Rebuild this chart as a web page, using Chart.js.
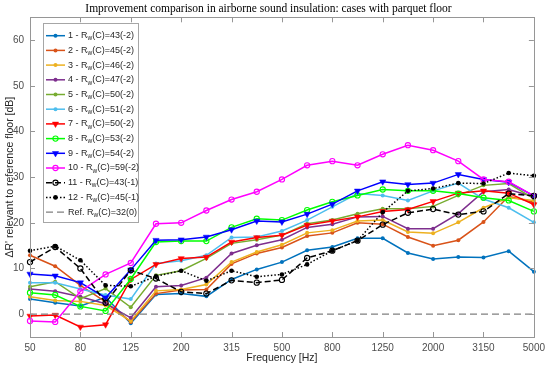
<!DOCTYPE html>
<html>
<head>
<meta charset="utf-8">
<script src="https://cdn.jsdelivr.net/npm/chart.js@4/dist/chart.umd.min.js"></script>
<style>
  html, body { margin: 0; padding: 0; background: #fff; }
  #chart { display: block; }
</style>
</head>
<body>
<canvas id="chart" width="550" height="367"></canvas>
<script>
// third-octave bands, and the ones that get a label
const freqLabels = ['50','63','80','100','125','160','200','250','315','400','500','630','800','1000','1250','1600','2000','2500','3150','4000','5000'];
const shownTicks = ['50','80','125','200','315','500','800','1250','2000','3150','5000'];
const yTicks = [0, 10, 20, 30, 40, 50, 60];

const legendLabels = [
  '1 - R_w(C)=43(-2)', '2 - R_w(C)=45(-2)', '3 - R_w(C)=46(-2)', '4 - R_w(C)=47(-2)',
  '5 - R_w(C)=50(-2)', '6 - R_w(C)=51(-2)', '7 - R_w(C)=50(-2)', '8 - R_w(C)=53(-2)',
  '9 - R_w(C)=54(-2)', '10 - R_w(C)=59(-2)', '11 - R_w(C)=43(-1)', '12 - R_w(C)=45(-1)',
  'Ref. R_w(C)=32(0)'
];

// improvement values [dB] per case
const case1  = [3.3, 2.5, 1.8, 3.7, -2.0, 4.3, 4.5, 3.9, 7.6, 9.8, 11.4, 14.0, 14.7, 16.6, 16.6, 13.4, 12.1, 12.5, 12.4, 13.8, 9.3];
const case2  = [12.9, 10.5, 6.3, 2.7, -1.7, 4.5, 5.3, 5.4, 11.0, 13.3, 14.6, 17.1, 17.8, 20.0, 19.7, 16.9, 15.0, 16.2, 20.2, 25.8, 24.5];
const case3  = [3.8, 3.0, 2.8, 1.9, -1.5, 5.1, 5.4, 6.5, 11.4, 13.6, 15.2, 17.8, 18.4, 20.4, 20.6, 18.0, 17.7, 20.1, 23.3, 25.5, 24.9];
const case4  = [5.5, 5.0, 3.8, 2.3, -0.8, 6.0, 6.3, 8.0, 13.3, 15.1, 16.3, 19.0, 19.7, 21.3, 21.4, 18.7, 18.7, 22.0, 26.8, 27.3, 25.7];
const case5  = [6.0, 7.1, 3.4, 5.6, 1.5, 8.5, 9.5, 12.2, 15.5, 16.3, 17.3, 19.8, 20.6, 22.0, 23.1, 23.1, 23.6, 26.0, 28.2, 28.6, 25.3];
const case6  = [6.9, 6.9, 5.5, 4.2, 3.3, 11.1, 11.7, 12.9, 16.8, 16.9, 18.2, 20.6, 23.5, 26.4, 26.0, 24.9, 27.0, 28.7, 25.2, 23.3, 20.1];
const case7  = [-0.4, -0.2, -2.8, -2.3, 7.6, 10.9, 12.2, 12.5, 15.8, 16.8, 17.3, 19.5, 20.4, 21.3, 22.5, 22.9, 24.7, 26.5, 27.0, 26.5, 24.0];
const case8  = [4.7, 4.2, 1.7, 0.7, 7.7, 15.8, 16.0, 16.0, 19.0, 20.9, 20.6, 22.8, 24.6, 26.0, 27.3, 27.0, 27.0, 26.4, 25.5, 24.9, 22.5];
const case9  = [8.8, 8.4, 6.9, 3.6, 9.7, 16.2, 16.3, 16.9, 18.5, 20.4, 20.2, 21.9, 24.1, 27.0, 29.0, 28.4, 28.7, 30.6, 29.5, 28.9, 25.9];
const case10 = [-1.5, -1.7, 5.0, 8.7, 11.2, 19.8, 20.0, 22.7, 25.1, 26.8, 29.5, 32.6, 33.5, 32.6, 35.0, 37.0, 35.9, 33.5, 29.5, 29.0, 25.9];
const case11 = [11.4, 14.7, 10.0, 2.5, 9.6, 7.8, 4.9, 4.5, 7.4, 6.9, 7.5, 12.3, 13.9, 16.1, 19.6, 22.2, 23.0, 21.8, 22.5, 26.4, 25.9];
const case12 = [13.9, 14.9, 11.8, 6.3, 6.1, 8.3, 9.5, 7.3, 9.5, 8.2, 8.7, 10.9, 13.9, 16.1, 22.3, 27.0, 27.5, 28.7, 28.6, 30.9, 30.3];
const refFloor = [0, 0, 0, 0, 0, 0, 0, 0, 0, 0, 0, 0, 0, 0, 0, 0, 0, 0, 0, 0, 0];

function dotSeries(label, data, color) {
  return {
    label: label, data: data, borderColor: color, backgroundColor: color,
    borderWidth: 1.5, pointStyle: 'circle', pointRadius: 2,
    pointBackgroundColor: color, pointBorderColor: color, pointBorderWidth: 0
  };
}
function triSeries(label, data, color) {
  return {
    label: label, data: data, borderColor: color, backgroundColor: color,
    borderWidth: 1.5, pointStyle: 'triangle', pointRotation: 180, pointRadius: 3.6,
    pointBackgroundColor: color, pointBorderColor: color, pointBorderWidth: 0.5
  };
}
function ringSeries(label, data, color) {
  return {
    label: label, data: data, borderColor: color, backgroundColor: color,
    borderWidth: 1.5, pointStyle: 'circle', pointRadius: 2.6,
    pointBackgroundColor: 'rgba(0,0,0,0)', pointBorderColor: color, pointBorderWidth: 1.1
  };
}

var datasets = [
  dotSeries(legendLabels[0], case1, '#0072BD'),
  dotSeries(legendLabels[1], case2, '#D95319'),
  dotSeries(legendLabels[2], case3, '#EDB120'),
  dotSeries(legendLabels[3], case4, '#7E2F8E'),
  dotSeries(legendLabels[4], case5, '#77AC30'),
  dotSeries(legendLabels[5], case6, '#4DBEEE'),
  triSeries(legendLabels[6], case7, '#FF0000'),
  ringSeries(legendLabels[7], case8, '#00FF00'),
  triSeries(legendLabels[8], case9, '#0000FF'),
  ringSeries(legendLabels[9], case10, '#FF00FF'),
  Object.assign(ringSeries(legendLabels[10], case11, '#000000'), { borderDash: [6, 3] }),
  Object.assign(dotSeries(legendLabels[11], case12, '#000000'), { borderDash: [1.5, 2], pointRadius: 2.3 }),
  {
    label: legendLabels[12], data: refFloor, borderColor: '#808080', backgroundColor: '#808080',
    borderWidth: 1.2, borderDash: [7, 4], pointRadius: 0
  }
];
// later cases drawn on top, like the original
datasets.forEach(function (ds, i) { ds.order = datasets.length - i; });

// matlab style box with inward ticks on all sides
const boxPlugin = {
  id: 'boxPlugin',
  afterDatasetsDraw(chart) {
    const ctx = chart.ctx;
    const a = chart.chartArea;
    const x = chart.scales.x, y = chart.scales.y;
    ctx.save();
    ctx.setLineDash([]);
    ctx.strokeStyle = '#969696';
    ctx.lineWidth = 1;
    ctx.strokeRect(Math.round(a.left) + 0.5, Math.round(a.top) + 0.5,
      Math.round(a.right - a.left), Math.round(a.bottom - a.top));
    ctx.beginPath();
    x.ticks.forEach(function (t) {
      var px = Math.round(x.getPixelForValue(t.value)) + 0.5;
      ctx.moveTo(px, a.bottom); ctx.lineTo(px, a.bottom - 5);
      ctx.moveTo(px, a.top); ctx.lineTo(px, a.top + 5);
    });
    y.ticks.forEach(function (t) {
      var py = Math.round(y.getPixelForValue(t.value)) + 0.5;
      ctx.moveTo(a.left, py); ctx.lineTo(a.left + 5, py);
      ctx.moveTo(a.right, py); ctx.lineTo(a.right - 5, py);
    });
    ctx.stroke();
    ctx.restore();
  }
};

// legend box in the upper left corner, with subscript w
const legendPlugin = {
  id: 'legendPlugin',
  afterDraw(chart) {
    const ctx = chart.ctx;
    const left = 43, top = 23, w = 95, h = 199;
    const rowH = 14.7, firstY = 35.7;
    ctx.save();
    ctx.fillStyle = '#ffffff';
    ctx.fillRect(left, top, w, h);
    ctx.strokeStyle = '#a6a6a6';
    ctx.lineWidth = 1;
    ctx.strokeRect(left + 0.5, top + 0.5, w, h);
    chart.data.datasets.forEach(function (ds, i) {
      var cy = firstY + i * rowH;
      ctx.strokeStyle = ds.borderColor;
      ctx.lineWidth = ds.borderWidth;
      ctx.setLineDash(ds.borderDash || []);
      ctx.beginPath();
      ctx.moveTo(46, cy); ctx.lineTo(65, cy);
      ctx.stroke();
      ctx.setLineDash([]);
      if (ds.pointRadius > 0) {
        ctx.fillStyle = ds.pointBackgroundColor;
        ctx.strokeStyle = ds.pointBorderColor;
        ctx.lineWidth = ds.pointBorderWidth;
        Chart.helpers.drawPoint(ctx, {
          pointStyle: ds.pointStyle, radius: ds.pointRadius,
          rotation: ds.pointRotation || 0, borderWidth: ds.pointBorderWidth
        }, 55.5, cy);
      }
      var parts = ds.label.split('_w');
      var tx = 68;
      ctx.fillStyle = '#262626';
      ctx.textBaseline = 'middle';
      ctx.textAlign = 'left';
      ctx.font = '9px "Liberation Sans", Arial, sans-serif';
      ctx.fillText(parts[0], tx, cy);
      tx += ctx.measureText(parts[0]).width;
      ctx.font = '6.5px "Liberation Sans", Arial, sans-serif';
      ctx.fillText('w', tx, cy + 3);
      tx += ctx.measureText('w').width;
      ctx.font = '9px "Liberation Sans", Arial, sans-serif';
      ctx.fillText(parts[1], tx, cy);
    });
    ctx.restore();
  }
};

const tickFont = { family: '"Liberation Sans", Arial, sans-serif', size: 10 };

new Chart(document.getElementById('chart'), {
  type: 'line',
  data: { labels: freqLabels, datasets: datasets },
  options: {
    responsive: false,
    animation: false,
    layout: { padding: { left: 0, right: 13, top: 0, bottom: 0 } },
    plugins: {
      legend: { display: false },
      tooltip: { enabled: false },
      title: {
        display: true,
        text: 'Improvement comparison in airborne sound insulation: cases with parquet floor',
        color: '#000000',
        font: { family: '"Liberation Serif", "Times New Roman", serif', size: 11.5, weight: 'normal' },
        padding: { top: 2, bottom: 1.5 }
      }
    },
    scales: {
      x: {
        type: 'category',
        offset: false,
        grid: { display: false, drawTicks: false },
        border: { display: false },
        afterBuildTicks: function (axis) {
          axis.ticks = axis.ticks.filter(function (t) { return shownTicks.indexOf(freqLabels[t.value]) >= 0; });
        },
        afterFit: function (axis) { axis.height = 30; },
        ticks: { autoSkip: false, maxRotation: 0, padding: 5, color: '#4d4d4d', font: tickFont },
        title: {
          display: true, text: 'Frequency [Hz]', color: '#262626',
          font: { family: '"Liberation Sans", Arial, sans-serif', size: 10.5 },
          padding: { top: 0, bottom: 3 }
        }
      },
      y: {
        min: -5,
        max: 65,
        grid: { display: false, drawTicks: false },
        border: { display: false },
        afterBuildTicks: function (axis) {
          axis.ticks = yTicks.map(function (v) { return { value: v }; });
        },
        afterFit: function (axis) { axis.width = 30; },
        ticks: { padding: 6, color: '#4d4d4d', font: tickFont },
        title: {
          display: true, text: "\u0394R' relevant to reference floor [dB]", color: '#262626',
          font: { family: '"Liberation Sans", Arial, sans-serif', size: 10.5 },
          padding: { top: 4, bottom: 0 }
        }
      }
    }
  },
  plugins: [boxPlugin, legendPlugin]
});
</script>
</body>
</html>
